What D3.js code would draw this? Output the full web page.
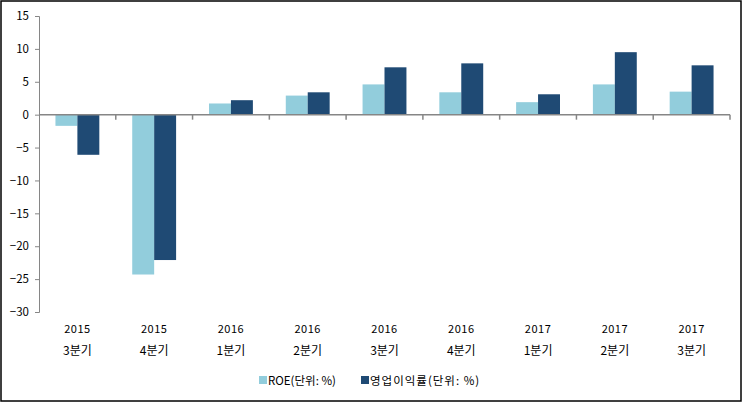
<!DOCTYPE html>
<html>
<head>
<meta charset="utf-8">
<script src="https://cdn.jsdelivr.net/npm/d3@7"></script>
<style>
  body { margin: 0; background: #fff; }
  text { font-family: "Noto Sans CJK KR", "Noto Sans", sans-serif; fill: #000; }
</style>
</head>
<body>
<div id="chart"></div>
<script>
// 분기별 데이터
const years = ["2015", "2015", "2016", "2016", "2016", "2016", "2017", "2017", "2017"]
const quarters = ["3분기", "4분기", "1분기", "2분기", "3분기", "4분기", "1분기", "2분기", "3분기"]
const roe = [-1.7, -24.3, 1.7, 2.9, 4.6, 3.4, 1.9, 4.6, 3.5]
const opMargin = [-6.1, -22.1, 2.2, 3.4, 7.2, 7.8, 3.1, 9.5, 7.5]
const yTicks = [15, 10, 5, 0, -5, -10, -15, -20, -25, -30]
const seriesNames = ["ROE(단위: %)", "영업이익률(단위: %)"]
const colors = ["#92CDDC", "#1F4A74"]

const width = 743, height = 403
const margin = { top: 16, right: 13, bottom: 91, left: 39 }

const svg = d3.select("#chart").append("svg")
    .attr("width", width)
    .attr("height", height)

// 바깥 테두리
svg.append("rect")
    .attr("x", 1).attr("y", 1)
    .attr("width", width - 3).attr("height", height - 3)
    .attr("fill", "#fff").attr("stroke", "#000").attr("stroke-width", 1.5)

const idx = d3.range(years.length)

const xScale = d3.scaleBand()
    .domain(idx)
    .range([margin.left, width - margin.right])
    .padding(0)

const xInner = d3.scaleBand()
    .domain([0, 1])
    .range([0, xScale.bandwidth()])
    .paddingInner(0)
    .paddingOuter(0.75)

const yScale = d3.scaleLinear()
    .domain([-30, 15])
    .range([height - margin.bottom, margin.top])

const axisColor = "#868686"

// y축
const yAxis = svg.append("g")
    .attr("transform", `translate(${margin.left},0)`)
    .call(d3.axisLeft(yScale).tickValues(yTicks).tickSize(4).tickPadding(6))
yAxis.select(".domain").attr("stroke", axisColor)
yAxis.selectAll(".tick line").attr("stroke", axisColor)
yAxis.selectAll("text").attr("font-size", 11.5).attr("fill", "#000")

// 막대
const series = [roe, opMargin]
series.forEach((vals, s) => {
    svg.append("g").selectAll("rect")
        .data(idx)
        .join("rect")
            .attr("x", i => xScale(i) + xInner(s))
            .attr("width", xInner.bandwidth())
            .attr("y", i => yScale(Math.max(0, vals[i])))
            .attr("height", i => Math.abs(yScale(vals[i]) - yScale(0)))
            .attr("fill", colors[s])
})

// x축 (0 기준선)
const y0 = yScale(0)
svg.append("line")
    .attr("x1", margin.left).attr("x2", width - margin.right)
    .attr("y1", y0).attr("y2", y0)
    .attr("stroke", axisColor).attr("stroke-width", 1.5)
svg.append("g").selectAll("line")
    .data(d3.range(1, years.length + 1))
    .join("line")
        .attr("x1", i => xScale.step() * i + margin.left)
        .attr("x2", i => xScale.step() * i + margin.left)
        .attr("y1", y0).attr("y2", y0 + 5)
        .attr("stroke", axisColor).attr("stroke-width", 1.5)

// 분기 라벨
const labels = svg.append("g").selectAll("g")
    .data(idx)
    .join("g")
        .attr("transform", i => `translate(${xScale(i) + xScale.bandwidth() / 2},0)`)
labels.append("text")
    .attr("y", 333).attr("text-anchor", "middle").attr("font-size", 11)
    .attr("letter-spacing", 0.5)
    .text(i => years[i])
labels.append("text")
    .attr("y", 355).attr("text-anchor", "middle").attr("font-size", 12)
    .text(i => quarters[i])

// 범례
const legend = svg.append("g").attr("transform", "translate(259,381)")
const legendX = [0, 102]
seriesNames.forEach((name, s) => {
    const g = legend.append("g").attr("transform", `translate(${legendX[s]},0)`)
    g.append("rect").attr("x", 0).attr("y", -5).attr("width", 8).attr("height", 8).attr("fill", colors[s])
    g.append("text").attr("x", 9).attr("y", 4).attr("font-size", 11.5)
        .attr("letter-spacing", s === 1 ? 1 : 0).text(name)
})
</script>
</body>
</html>
